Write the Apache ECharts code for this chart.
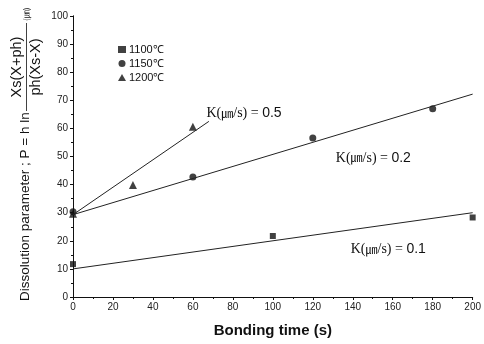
<!DOCTYPE html>
<html>
<head>
<meta charset="utf-8">
<script src="https://cdn.jsdelivr.net/npm/echarts@6/dist/echarts.min.js"></script>
<style>
  html, body { margin: 0; padding: 0; background: #fff; }
  #chart { width: 484px; height: 344px; }
</style>
</head>
<body>
<div id="chart"></div>
<script>
// measured points (bonding time s, P in um)
const t1100 = [0, 100, 200];
const p1100 = [11.7, 21.7, 28.3];
const t1150 = [0, 60, 120, 180];
const p1150 = [30.3, 42.7, 56.6, 67.0];
const t1200 = [0, 30, 60];
const p1200 = [29.6, 39.9, 60.6];

// fitted lines [start, end]
const fitK01 = [[0, 10], [200, 30]];
const fitK02 = [[0, 29.3], [200, 72.2]];
const fitK05 = [[0, 29.3], [68, 62.5]];
const kValues = ['0.1', '0.2', '0.5'];

const xTicks = [0, 200, 20];
const yTicks = [0, 100, 10];

const sans = 'Liberation Sans, Arial, sans-serif';
const serif = 'Liberation Serif, serif';
const cjk = 'Noto Sans CJK KR, sans-serif';

const zip = (xs, ys) => xs.map((x, i) => [x, ys[i]]);

const chart = echarts.init(document.getElementById('chart'), null, { renderer: 'canvas' });

const axisLine = { lineStyle: { color: '#111', width: 1 } };

const fitSeries = (name, data, labelAt, k) => ({
  name,
  type: 'line',
  data,
  symbol: 'none',
  silent: true,
  lineStyle: { color: '#222', width: 1 },
  markPoint: {
    symbol: 'circle',
    symbolSize: 0,
    data: [{ coord: labelAt }],
    label: {
      show: true,
      position: 'right',
      distance: 0,
      formatter: '{s|K(}{u|㎛}{s|/s) = }{n|' + k + '}',
      rich: {
        s: { fontSize: 14, fontFamily: serif, color: '#111' },
        u: { fontSize: 12, fontFamily: cjk, color: '#111' },
        n: { fontSize: 14, fontFamily: sans, color: '#111' }
      }
    }
  }
});

chart.setOption({
  animation: false,
  grid: { left: 73, right: 7, top: 16, bottom: 47 },
  legend: {
    orient: 'vertical',
    left: 113,
    top: 39,
    itemWidth: 8,
    itemHeight: 7,
    itemGap: 3,
    data: ['1100℃', '1150℃', '1200℃'],
    textStyle: { fontSize: 11, fontFamily: sans, color: '#111', padding: [0, 0, 0, -2] }
  },
  xAxis: [
    {
      type: 'value', min: xTicks[0], max: xTicks[1], interval: xTicks[2],
      name: 'Bonding time (s)', nameLocation: 'middle', nameGap: 26,
      nameTextStyle: { fontSize: 15, fontWeight: 'bold', fontFamily: sans, color: '#111' },
      axisLine, splitLine: { show: false },
      axisTick: { inside: false, length: 3, lineStyle: { color: '#111' } },
      minorTick: { show: true, splitNumber: 2, length: 2, lineStyle: { color: '#111' } },
      axisLabel: { fontSize: 10, fontFamily: sans, color: '#222', margin: 5 }
    },
    {
      type: 'value', position: 'top', min: xTicks[0], max: xTicks[1], interval: xTicks[2],
      axisLine, splitLine: { show: false },
      axisTick: { inside: true, length: 3, lineStyle: { color: '#111' } },
      minorTick: { show: true, splitNumber: 2, length: 2, lineStyle: { color: '#111' } },
      axisLabel: { show: false }
    }
  ],
  yAxis: [
    {
      type: 'value', min: yTicks[0], max: yTicks[1], interval: yTicks[2],
      axisLine, splitLine: { show: false },
      axisTick: { inside: false, length: 3, lineStyle: { color: '#111' } },
      minorTick: { show: true, splitNumber: 2, length: 2, lineStyle: { color: '#111' } },
      axisLabel: { fontSize: 10, fontFamily: sans, color: '#222', margin: 5 }
    },
    {
      type: 'value', position: 'right', min: yTicks[0], max: yTicks[1], interval: yTicks[2],
      axisLine, splitLine: { show: false },
      axisTick: { inside: true, length: 3, lineStyle: { color: '#111' } },
      minorTick: { show: true, splitNumber: 2, length: 2, lineStyle: { color: '#111' } },
      axisLabel: { show: false }
    }
  ],
  series: [
    fitSeries('K0.1', fitK01, [139, 17], kValues[0]),
    fitSeries('K0.2', fitK02, [131.5, 49.5], kValues[1]),
    fitSeries('K0.5', fitK05, [66.8, 65.5], kValues[2]),
    {
      name: '1100℃', type: 'scatter', symbol: 'rect', symbolSize: 6,
      itemStyle: { color: '#111' }, data: zip(t1100, p1100)
    },
    {
      name: '1150℃', type: 'scatter', symbol: 'circle', symbolSize: 7,
      itemStyle: { color: '#111' }, data: zip(t1150, p1150)
    },
    {
      name: '1200℃', type: 'scatter', symbol: 'triangle', symbolSize: 8,
      itemStyle: { color: '#111' }, data: zip(t1200, p1200)
    }
  ],
  graphic: [
    {
      // rotated y-axis title with the fraction
      type: 'group',
      x: 25, y: 301,
      rotation: Math.PI / 2,
      children: [
        { type: 'text', x: 0, y: 0,
          style: { text: 'Dissolution parameter ; P = h ln', font: '13.5px ' + sans,
                   fill: '#111', align: 'left', verticalAlign: 'middle' } },
        { type: 'text', x: 234, y: -8,
          style: { text: 'Xs(X+ph)', font: '14.5px ' + sans, fill: '#111',
                   align: 'center', verticalAlign: 'middle' } },
        { type: 'line', shape: { x1: 190, y1: 1.5, x2: 278, y2: 1.5 },
          style: { stroke: '#111', lineWidth: 0.8 } },
        { type: 'text', x: 234, y: 11,
          style: { text: 'ph(Xs-X)', font: '14.5px ' + sans, fill: '#111',
                   align: 'center', verticalAlign: 'middle' } },
        { type: 'text', x: 280, y: 1,
          style: { text: '(㎛)', font: '8px ' + cjk, fill: '#111',
                   align: 'left', verticalAlign: 'middle' } }
      ]
    }
  ]
});
</script>
</body>
</html>
